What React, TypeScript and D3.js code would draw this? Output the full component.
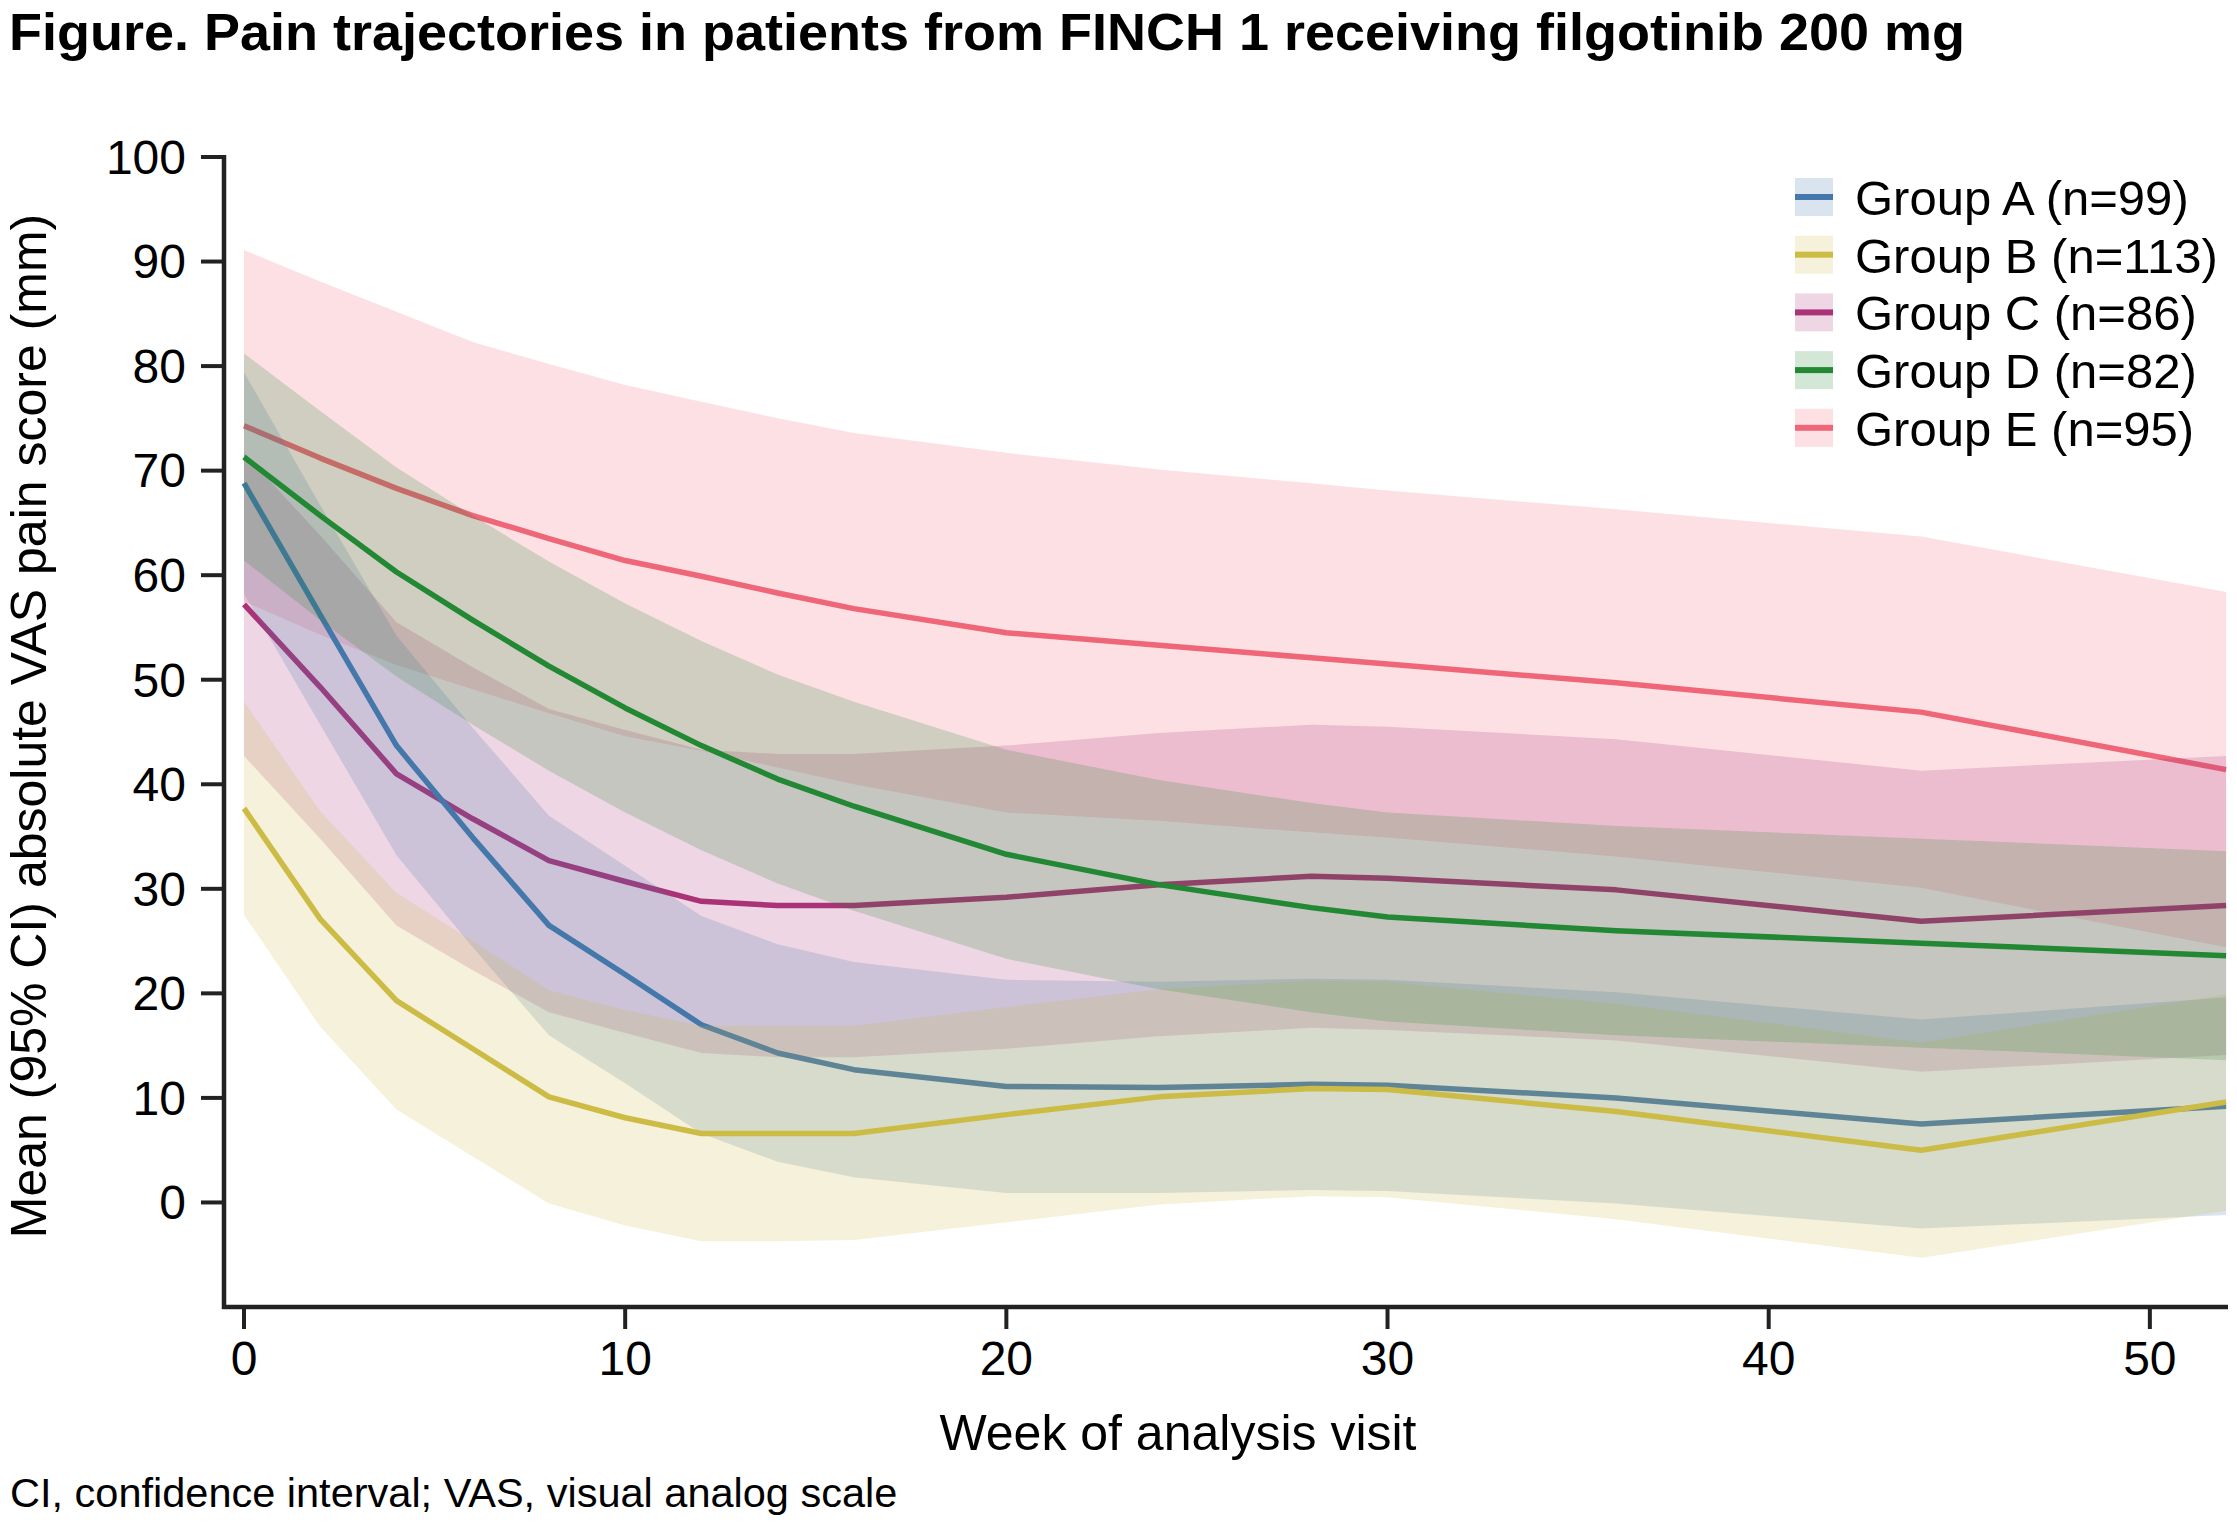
import React from 'react';
import * as d3 from 'd3';

// visit weeks shared by every group
const weeks = [0, 2, 4, 6, 8, 10, 12, 14, 16, 20, 24, 28, 30, 36, 44, 52];

const meanA = [68.8, 56.2, 43.7, 34.9, 26.5, 21.8, 17.0, 14.3, 12.7, 11.1, 11.0, 11.3, 11.2, 10.0, 7.5, 9.2];
const upperA = [79.4, 66.7, 54.2, 45.4, 37.0, 32.2, 27.4, 24.7, 23.0, 21.3, 21.1, 21.4, 21.3, 20.1, 17.5, 19.6];
const lowerA = [58.2, 45.7, 33.2, 24.4, 16.0, 11.4, 6.6, 3.9, 2.4, 0.9, 0.9, 1.2, 1.1, -0.1, -2.5, -1.2];

const meanB = [37.7, 27.1, 19.3, 14.7, 10.1, 8.1, 6.6, 6.6, 6.6, 8.4, 10.1, 10.9, 10.8, 8.7, 5.0, 9.6];
const upperB = [47.9, 37.4, 29.6, 25.0, 20.3, 18.4, 16.9, 16.9, 16.9, 18.7, 20.4, 21.2, 21.1, 19.0, 15.3, 19.9];
const lowerB = [27.5, 16.8, 8.9, 4.4, -0.1, -2.2, -3.7, -3.7, -3.6, -1.9, -0.2, 0.6, 0.5, -1.6, -5.3, -0.8];

const meanC = [57.2, 49.3, 41.0, 36.7, 32.7, 30.7, 28.8, 28.4, 28.4, 29.2, 30.4, 31.2, 31.0, 29.9, 26.9, 28.4];
const upperC = [71.7, 63.8, 55.5, 51.2, 47.2, 45.2, 43.3, 42.9, 42.9, 43.7, 44.9, 45.7, 45.5, 44.3, 41.3, 42.7];
const lowerC = [42.7, 34.8, 26.5, 22.2, 18.2, 16.2, 14.3, 13.9, 13.9, 14.7, 15.9, 16.7, 16.5, 15.5, 12.5, 14.1];

const meanD = [71.3, 65.7, 60.3, 55.7, 51.3, 47.3, 43.7, 40.5, 37.9, 33.3, 30.4, 28.2, 27.3, 26.0, 24.8, 23.6];
const upperD = [81.2, 75.7, 70.3, 65.7, 61.3, 57.3, 53.7, 50.5, 47.9, 43.3, 40.4, 38.2, 37.3, 36.0, 34.8, 33.6];
const lowerD = [61.4, 55.7, 50.3, 45.7, 41.3, 37.3, 33.7, 30.5, 27.9, 23.3, 20.4, 18.2, 17.3, 16.0, 14.8, 13.6];

const meanE = [74.3, 71.2, 68.3, 65.7, 63.5, 61.4, 59.9, 58.3, 56.8, 54.5, 53.3, 52.1, 51.5, 49.7, 46.9, 41.4];
const upperE = [91.1, 88.1, 85.2, 82.3, 80.2, 78.2, 76.6, 75.0, 73.6, 71.7, 70.1, 68.8, 68.1, 66.3, 63.7, 58.4];
const lowerE = [57.5, 54.3, 51.4, 49.1, 46.8, 44.6, 43.2, 41.6, 40.0, 37.3, 36.5, 35.4, 34.9, 33.1, 30.1, 24.4];

const groupNames = ['Group A (n=99)', 'Group B (n=113)', 'Group C (n=86)', 'Group D (n=82)', 'Group E (n=95)'];
const groupColors = ['#4477AA', '#CCBB44', '#AA3377', '#228833', '#EE6677'];

const yTicks = [0, 10, 20, 30, 40, 50, 60, 70, 80, 90, 100];
const xTicks = [0, 10, 20, 30, 40, 50];

const W = 2237;
const H = 1522;
const FONT = '"Liberation Sans", Arial, Helvetica, sans-serif';

const groups = [
  { name: groupNames[0], color: groupColors[0], mean: meanA, lo: lowerA, hi: upperA },
  { name: groupNames[1], color: groupColors[1], mean: meanB, lo: lowerB, hi: upperB },
  { name: groupNames[2], color: groupColors[2], mean: meanC, lo: lowerC, hi: upperC },
  { name: groupNames[3], color: groupColors[3], mean: meanD, lo: lowerD, hi: upperD },
  { name: groupNames[4], color: groupColors[4], mean: meanE, lo: lowerE, hi: upperE },
];

// the plot stacks them E, C, A, B, D (green on top)
const drawOrder = [4, 2, 0, 1, 3];

const App: React.FC = () => {
  const x = d3.scaleLinear().domain([-0.525, 52.05]).range([224, 2228]);
  const y = d3.scaleLinear().domain([-10, 100]).range([1307, 157]);

  const band = (lo: number[], hi: number[]) =>
    d3.area<number>()
      .x((w) => x(w))
      .y0((_, i) => y(lo[i]))
      .y1((_, i) => y(hi[i]))(weeks) || '';

  const line = (m: number[]) =>
    d3.line<number>()
      .x((w) => x(w))
      .y((_, i) => y(m[i]))(weeks) || '';

  const x0 = 224;
  const yBase = 1307;

  return (
    <div style={{ position: 'absolute', left: 0, top: 0 }}>
      <svg width={W} height={H} viewBox={`0 0 ${W} ${H}`} style={{ display: 'block', background: '#fff' }} fontFamily={FONT}>
        <rect x={0} y={0} width={W} height={H} fill="#fff" />
        <text x={9} y={50} fontSize={52} fontWeight="bold" fill="#000" textLength={1956} lengthAdjust="spacingAndGlyphs">
          Figure. Pain trajectories in patients from FINCH 1 receiving filgotinib 200 mg
        </text>

        {drawOrder.map((gi) => {
          const g = groups[gi];
          return (
            <g key={g.name}>
              <path d={band(g.lo, g.hi)} fill={g.color} fillOpacity={0.2} stroke="none" />
              <path d={line(g.mean)} fill="none" stroke={g.color} strokeWidth={5.5} strokeLinejoin="round" />
            </g>
          );
        })}

        {/* axes */}
        <line x1={x0} x2={x0} y1={y(100) - 2} y2={yBase + 2} stroke="#222" strokeWidth={4.5} />
        <line x1={x0 - 2} x2={2228} y1={yBase} y2={yBase} stroke="#222" strokeWidth={4.5} />
        {yTicks.map((t) => (
          <g key={'y' + t}>
            <line x1={x0 - 23} x2={x0} y1={y(t)} y2={y(t)} stroke="#222" strokeWidth={4} />
            <text x={186} y={y(t)} dy="0.35em" textAnchor="end" fontSize={48} fill="#000">{t}</text>
          </g>
        ))}
        {xTicks.map((t) => (
          <g key={'x' + t}>
            <line x1={x(t)} x2={x(t)} y1={yBase} y2={yBase + 22} stroke="#222" strokeWidth={4} />
            <text x={x(t)} y={1375} textAnchor="middle" fontSize={48} fill="#000">{t}</text>
          </g>
        ))}

        <text x={1178} y={1450} textAnchor="middle" fontSize={50} fill="#000">Week of analysis visit</text>
        <text transform={`translate(46, 726) rotate(-90)`} textAnchor="middle" fontSize={50} fill="#000">
          Mean (95% CI) absolute VAS pain score (mm)
        </text>

        {/* legend */}
        {groups.map((g, i) => {
          const top = 178 + i * 57.7;
          return (
            <g key={'leg' + i}>
              <rect x={1795} y={top} width={38} height={38} fill={g.color} fillOpacity={0.2} />
              <rect x={1795} y={top + 16} width={38} height={6} fill={g.color} />
              <text x={1855} y={top + 37} fontSize={49} fill="#000">{g.name}</text>
            </g>
          );
        })}

        <text x={10} y={1507} fontSize={41.5} fill="#000">CI, confidence interval; VAS, visual analog scale</text>
      </svg>
    </div>
  );
};

export default App;
